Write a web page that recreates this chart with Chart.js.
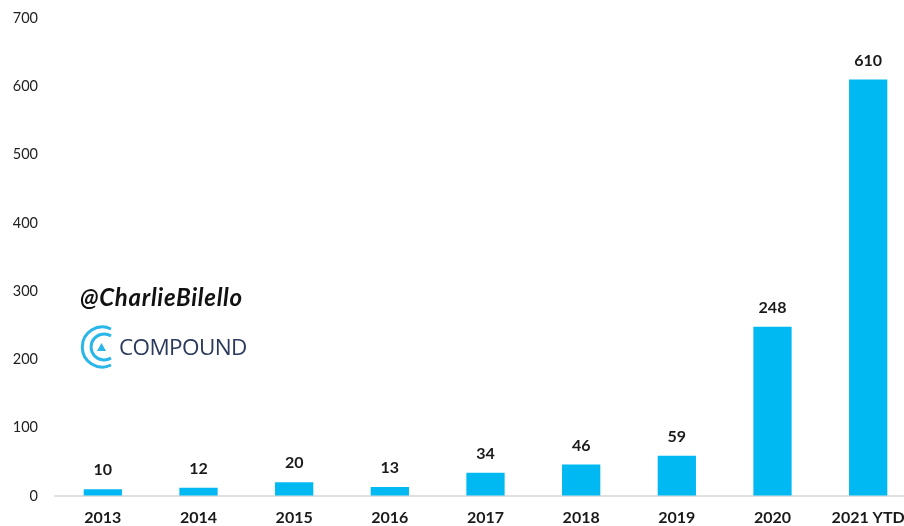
<!DOCTYPE html>
<html>
<head>
<meta charset="utf-8">
<script src="https://cdn.jsdelivr.net/npm/chart.js@4"></script>
<style>
	html, body { margin: 0; padding: 0; background: #fff; overflow: hidden; }
	#wrap { position: relative; width: 904px; height: 526px; overflow: hidden; }
	#myChart { position: absolute; left: 0; top: 0; }
	#handle {
		position: absolute; left: 80px; top: 282px;
		font: italic bold 24px Lato, sans-serif;
		letter-spacing: 0.7px; color: #111; white-space: nowrap;
	}
	#logo { position: absolute; left: 79px; top: 324px; }
	#brand {
		position: absolute; left: 119px; top: 331px;
		font: 22.5px "Open Sans", sans-serif;
		letter-spacing: -0.6px; color: #2b3a5c; white-space: nowrap;
	}
</style>
</head>
<body>
<div id="wrap">
	<canvas id="myChart" width="920" height="526"></canvas>
	<div id="handle">@CharlieBilello</div>
	<svg id="logo" width="44" height="46" viewBox="0 0 44 46" fill="none" stroke="#29b6e8">
		<path d="M32 5 A20 20 0 1 0 32 41" stroke-width="3"/>
		<path d="M32 12 A13 13 0 1 0 32 34" stroke-width="3"/>
		<path d="M18 27 L22.5 19 L27 27 Z" fill="#29b6e8" stroke="none"/>
	</svg>
	<div id="brand">COMPOUND</div>
</div>

<script>
const labels = ['2013', '2014', '2015', '2016', '2017', '2018', '2019', '2020', '2021 YTD'];
const datos = [10, 12, 20, 13, 34, 46, 59, 248, 610];
const ticksY = [0, 100, 200, 300, 400, 500, 600, 700];

/* Numero encima de cada barra */
const etiquetas = {
	id: 'etiquetas',
	afterDatasetsDraw(chart) {
		const ctx = chart.ctx;
		ctx.save();
		ctx.font = 'bold 16px Lato, sans-serif';
		ctx.fillStyle = '#1a1a1a';
		ctx.textAlign = 'center';
		ctx.textBaseline = 'middle';
		chart.getDatasetMeta(0).data.forEach(function (bar, i) {
			ctx.fillText(datos[i], bar.x, bar.y - 19);
		});
		ctx.restore();
	}
};

var ctx = document.getElementById('myChart');
var myChart = new Chart(ctx, {
	type: 'bar',
	data: {
		labels: labels,
		datasets: [{
			data: datos,
			backgroundColor: '#00b9f2',
			categoryPercentage: 1,
			barPercentage: 0.4
		}]
	},
	options: {
		responsive: false,
		animation: false,
		layout: { autoPadding: false, padding: { top: 18, right: 4, bottom: 0, left: 0 } },
		plugins: {
			legend: { display: false },
			tooltip: { enabled: false }
		},
		scales: {
			x: {
				afterFit: function (scale) { scale.height = 30; },
				grid: { display: false, drawTicks: false },
				border: { color: '#e0e0e0', width: 2 },
				ticks: {
					color: '#1a1a1a',
					padding: 12,
					maxRotation: 0,
					font: { family: 'Lato, sans-serif', size: 16, weight: 'bold' }
				}
			},
			y: {
				min: 0,
				max: 700,
				afterFit: function (scale) { scale.width = 55; },
				afterBuildTicks: function (scale) {
					scale.ticks = ticksY.map(function (v) { return { value: v }; });
				},
				/* la separacion va en tickLength: ticks.padding empuja el area del grafico */
				grid: { drawOnChartArea: false, tickLength: 17, tickColor: 'transparent' },
				border: { display: false },
				ticks: {
					color: '#222',
					padding: 0,
					font: { family: 'Lato, sans-serif', size: 14.5 }
				}
			}
		}
	},
	plugins: [etiquetas]
});
</script>
</body>
</html>
